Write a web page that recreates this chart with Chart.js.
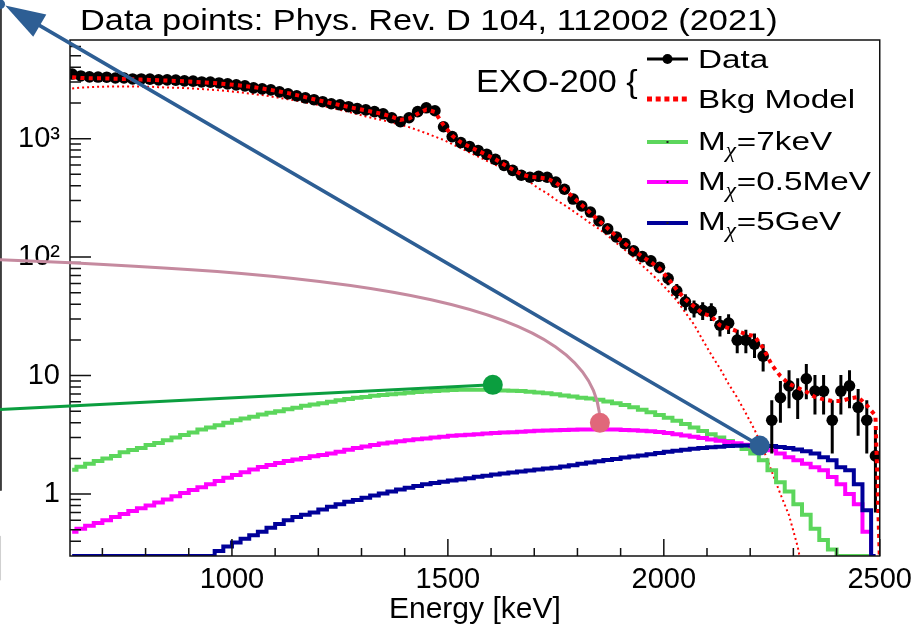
<!DOCTYPE html>
<html lang="en">
<head>
<meta charset="UTF-8">
<title>EXO-200 spectrum with dark matter signals</title>
<script src="https://cdn.jsdelivr.net/npm/chart.js"></script>
<style>
  html, body { margin: 0; padding: 0; background: #fff; }
</style>
</head>
<body>
<canvas id="spectrum" width="919" height="630"></canvas>
<script>
const FONT = "'Liberation Sans', Arial, sans-serif";

// bin centres (keV), 20 keV bins
const energy = [630, 650, 670, 690, 710, 730, 750, 770, 790, 810, 830, 850, 870, 890, 910, 930, 950, 970, 990,
  1010, 1030, 1050, 1070, 1090, 1110, 1130, 1150, 1170, 1190, 1210, 1230, 1250, 1270, 1290, 1310, 1330, 1350,
  1370, 1390, 1410, 1430, 1450, 1470, 1490, 1510, 1530, 1550, 1570, 1590, 1610, 1630, 1650, 1670, 1690, 1710,
  1730, 1750, 1770, 1790, 1810, 1830, 1850, 1870, 1890, 1910, 1930, 1950, 1970, 1990, 2010, 2030, 2050, 2070,
  2090, 2110, 2130, 2150, 2170, 2190, 2210, 2230, 2250, 2270, 2290, 2310, 2330, 2350, 2370, 2390, 2410, 2430,
  2450, 2470, 2490];

const dataCounts = [3510, 3380, 3320, 3310, 3300, 3250, 3250, 3190, 3190, 3180, 3130, 3130, 3120, 3070, 3060, 3010, 3000, 2950, 2900,
  2840, 2790, 2680, 2630, 2580, 2480, 2390, 2300, 2210, 2130, 2050, 1970, 1930, 1860, 1790, 1750, 1690, 1620,
  1500, 1390, 1500, 1690, 1820, 1720, 1260, 1040, 927, 859, 795, 736, 668, 595, 540, 491, 472, 481,
  472, 429, 374, 309, 270, 240, 202, 173, 148, 130, 113, 101, 93, 82, 66, 52, 42, 37,
  35.5, 34.8, 26.6, 27.7, 19.9, 19.9, 18.4, 14.6, 4.2, 6.5, 8.2, 6.9, 9.4, 7.4, 7.4, 4.2, 7.4, 8.2,
  5.4, 4.2, 2.1];

const dataErr = [59, 58, 58, 58, 57, 57, 57, 56, 56, 56, 56, 56, 56, 55, 55, 55, 55, 54, 54,
  53, 53, 52, 51, 51, 50, 49, 48, 47, 46, 45, 44, 44, 43, 42, 42, 41, 40,
  39, 37, 39, 41, 43, 41, 35, 32, 30, 29, 28, 27, 26, 24, 23, 22, 22, 22,
  22, 21, 19, 18, 16, 15, 14, 13, 12, 11, 11, 10, 9.6, 9, 8.1, 7.2, 6.5, 6.1,
  6, 5.9, 5.2, 5.3, 4.5, 4.5, 4.3, 3.8, 2.0, 2.5, 2.9, 2.6, 3.1, 2.7, 2.7, 2.0, 2.7, 2.9,
  2.3, 2.0, 1.4];

const bkgModel = [3300, 3250, 3230, 3230, 3220, 3200, 3190, 3170, 3150, 3130, 3110, 3090, 3070, 3050, 3020, 2990, 2960, 2920, 2880,
  2830, 2780, 2720, 2650, 2580, 2500, 2420, 2330, 2240, 2150, 2070, 1990, 1920, 1850, 1790, 1730, 1670, 1610,
  1530, 1440, 1480, 1620, 1760, 1680, 1300, 1060, 930, 855, 790, 730, 670, 605, 550, 500, 475, 470,
  460, 425, 375, 320, 275, 236, 203, 175, 150, 130, 114, 101, 91, 80, 66, 53, 44, 38.4,
  33.5, 31.7, 26.6, 25.1, 23.7, 22.4, 21.5, 17.1, 12.3, 9.9, 8.5, 7.9, 7.3, 6.6, 6.3, 6.1, 6.1, 6.4,
  6.6, 5.6, 4.6];

// lower dotted component (falls off before the endpoint)
const bkgComponent = [2650, 2700, 2720, 2740, 2750, 2760, 2760, 2760, 2750, 2740, 2720, 2700, 2690, 2670, 2650, 2620, 2590, 2560, 2520,
  2480, 2430, 2380, 2330, 2270, 2210, 2150, 2090, 2020, 1960, 1890, 1820, 1750, 1680, 1610, 1540, 1480, 1430,
  1370, 1310, 1250, 1180, 1110, 1040, 975, 900, 830, 765, 705, 650, 600, 555, 510, 470, 430, 380,
  345, 305, 275, 245, 218, 193, 173, 152, 132, 115, 100, 85, 73, 62, 52, 43, 34, 27,
  20, 15, 11.5, 8.5, 6.5, 4.8, 3.5, 2.4, 1.55, 1.0, 0.66, 0.36, 0.15, null, null, null, null, null,
  null, null, null];

const dm7keV = [1.6, 1.7, 1.8, 1.9, 2.0, 2.1, 2.25, 2.35, 2.45, 2.6, 2.7, 2.85, 3.0, 3.15, 3.3, 3.5, 3.65, 3.8, 4.0,
  4.2, 4.35, 4.5, 4.7, 4.85, 5.0, 5.2, 5.35, 5.55, 5.7, 5.85, 6.0, 6.2, 6.35, 6.5, 6.6, 6.75, 6.85,
  6.95, 7.05, 7.15, 7.25, 7.35, 7.4, 7.5, 7.55, 7.6, 7.6, 7.6, 7.6, 7.55, 7.5, 7.45, 7.4, 7.3, 7.2,
  7.1, 6.95, 6.8, 6.65, 6.5, 6.4, 6.25, 6.05, 5.85, 5.65, 5.4, 5.15, 4.9, 4.65, 4.4, 4.15, 3.9, 3.65,
  3.4, 3.2, 3.0, 2.8, 2.6, 2.4, 2.2, 1.93, 1.59, 1.26, 1.05, 0.82, 0.67, 0.51, 0.41, 0.34, 0, 0,
  0, 0, 0];

const dm05MeV = [0.48, 0.51, 0.54, 0.57, 0.6, 0.64, 0.68, 0.72, 0.76, 0.8, 0.85, 0.9, 0.96, 1.02, 1.08, 1.14, 1.21, 1.29, 1.37,
  1.45, 1.53, 1.61, 1.69, 1.76, 1.83, 1.9, 1.96, 2.02, 2.08, 2.14, 2.2, 2.28, 2.36, 2.45, 2.52, 2.6, 2.67,
  2.73, 2.79, 2.84, 2.9, 2.95, 3.0, 3.05, 3.1, 3.14, 3.17, 3.2, 3.24, 3.27, 3.3, 3.33, 3.36, 3.39, 3.42,
  3.44, 3.46, 3.48, 3.49, 3.5, 3.5, 3.5, 3.5, 3.5, 3.48, 3.46, 3.43, 3.39, 3.34, 3.28, 3.2, 3.12, 3.05,
  2.97, 2.89, 2.82, 2.75, 2.68, 2.61, 2.53, 2.44, 2.34, 2.2, 2.04, 1.93, 1.8, 1.68, 1.59, 1.39, 1.21, 1.0,
  0.82, 0.48, 0];

const dm5GeV = [0, 0, 0, 0, 0, 0, 0, 0, 0, 0, 0, 0, 0, 0, 0, 0, 0, 0.33, 0.36,
  0.39, 0.42, 0.45, 0.48, 0.52, 0.56, 0.6, 0.64, 0.67, 0.7, 0.74, 0.78, 0.82, 0.86, 0.89, 0.93, 0.97, 1.01,
  1.05, 1.09, 1.13, 1.17, 1.21, 1.24, 1.27, 1.3, 1.33, 1.36, 1.4, 1.43, 1.46, 1.49, 1.52, 1.55, 1.58, 1.61,
  1.64, 1.67, 1.71, 1.75, 1.8, 1.85, 1.89, 1.94, 1.98, 2.03, 2.07, 2.12, 2.17, 2.22, 2.27, 2.32, 2.37, 2.41,
  2.45, 2.48, 2.51, 2.54, 2.56, 2.57, 2.57, 2.56, 2.54, 2.5, 2.45, 2.38, 2.3, 2.2, 2.04, 1.93, 1.68, 1.59,
  1.21, 0.73, 0];

const xRange = [625, 2500];
const yRange = [0.32, 6800];
const xTickValues = [1000, 1500, 2000, 2500];
const yTickValues = [1, 10, 100, 1000];
const yTickLabels = ['1', '10', '10²', '10³'];

// pointer overlays, in data units [keV, counts]
const arrowDot = [2222, 2.57];
const arrowTip = [475, 13300];
const greenDot = [1604, 8.35];
const greenStart = [463, 5.16];
const pinkDot = [1852, 4.0];
const pinkStart = [463, 95];
const pinkBend = [[1273, 72.6], [1852, 44.8]];
const edgeLine = [[465, 15000], [465, 1.08]];
const edgeDot = [463, 13600];
const edgeGrey = [[463, 0.436], [463, 0.19]];

const GREEN = '#5cd65c', MAGENTA = '#ff00ff', NAVY = '#000099', RED = '#ff0000';

// zero bins are kept (parsing off) so the log axis puts them on the frame bottom, like ROOT
const pts = vals => energy.map((e, i) => ({x: e, y: vals[i]}));

function stretchText(ctx, txt, x, y, font, sx) {
  ctx.save();
  ctx.font = font;
  ctx.translate(x, y);
  ctx.scale(sx, 1);
  ctx.fillText(txt, 0, 0);
  const w = ctx.measureText(txt).width * sx;
  ctx.restore();
  return w;
}

const decor = {
  id: 'decor',
  afterDatasetDraw(chart, args) {
    if (args.meta.label !== 'Data') return;
    const {ctx, chartArea: a, scales: {x, y}} = chart;
    ctx.save();
    ctx.beginPath();
    ctx.rect(a.left, a.top, a.right - a.left, a.bottom - a.top);
    ctx.clip();
    ctx.strokeStyle = '#000';
    ctx.lineWidth = 3;
    energy.forEach((e, i) => {
      const px = x.getPixelForValue(e);
      const lo = Math.max(dataCounts[i] - dataErr[i], 1e-3);
      ctx.beginPath();
      ctx.moveTo(px, y.getPixelForValue(lo));
      ctx.lineTo(px, y.getPixelForValue(dataCounts[i] + dataErr[i]));
      ctx.stroke();
    });
    ctx.restore();
  },
  afterDraw(chart) {
    const {ctx, chartArea: a, scales: {x, y}} = chart;
    const P = d => [x.getPixelForValue(d[0]), y.getPixelForValue(d[1])];
    ctx.save();

    // frame
    ctx.strokeStyle = '#111';
    ctx.lineWidth = 1.5;
    ctx.strokeRect(a.left, a.top, a.right - a.left, a.bottom - a.top);

    // inward ticks
    ctx.beginPath();
    for (let v = 700; v <= 2500; v += 100) {
      const px = x.getPixelForValue(v);
      const len = v % 500 === 0 ? 17 : 8;
      ctx.moveTo(px, a.bottom);
      ctx.lineTo(px, a.bottom - len);
    }
    for (let dec = 0.1; dec <= 1000; dec *= 10) {
      for (let m = 1; m <= 9; m++) {
        const v = dec * m;
        if (v < yRange[0] || v > yRange[1]) continue;
        const py = y.getPixelForValue(v);
        ctx.moveTo(a.left, py);
        ctx.lineTo(a.left + (m === 1 ? 21 : 11), py);
      }
    }
    ctx.stroke();

    // title
    ctx.fillStyle = '#000';
    ctx.textBaseline = 'alphabetic';
    stretchText(ctx, 'Data points: Phys. Rev. D 104, 112002 (2021)', 80, 30, '30px ' + FONT, 1.145);
    stretchText(ctx, 'EXO-200 {', 476, 92, '32px ' + FONT, 1.07);

    // legend
    const rows = [59, 99, 142, 182, 223];
    const base = [68, 108, 150, 190, 230];
    const x0 = 647, x1 = 688, tx = 698, sx = 1.33;
    const lf = '25px ' + FONT, sf = "italic 21px 'Liberation Serif', serif";
    ctx.lineCap = 'butt';
    // Data
    ctx.strokeStyle = '#000'; ctx.lineWidth = 3;
    ctx.beginPath(); ctx.moveTo(x0, rows[0]); ctx.lineTo(x1, rows[0]); ctx.stroke();
    ctx.beginPath(); ctx.arc((x0 + x1) / 2, rows[0], 5, 0, Math.PI * 2); ctx.fill();
    stretchText(ctx, 'Data', tx, base[0], lf, sx);
    // Bkg
    ctx.strokeStyle = RED; ctx.lineWidth = 5; ctx.setLineDash([5, 3.7]);
    ctx.beginPath(); ctx.moveTo(x0, rows[1]); ctx.lineTo(x1, rows[1]); ctx.stroke();
    ctx.setLineDash([]);
    stretchText(ctx, 'Bkg Model', tx, base[1], lf, sx);
    // signals
    [[GREEN, '=7keV'], [MAGENTA, '=0.5MeV'], [NAVY, '=5GeV']].forEach(([c, t], k) => {
      const r = rows[k + 2], b = base[k + 2];
      ctx.strokeStyle = c; ctx.lineWidth = 4;
      ctx.beginPath(); ctx.moveTo(x0, r); ctx.lineTo(x1, r); ctx.stroke();
      ctx.fillStyle = '#222';
      ctx.fillRect((x0 + x1) / 2 - 1, r - 1, 2, 2);
      ctx.fillStyle = '#000';
      let cx = tx;
      cx += stretchText(ctx, 'M', cx, b, lf, sx);
      cx += stretchText(ctx, 'χ', cx, b + 7, sf, 1.1);
      stretchText(ctx, t, cx + 1, b, lf, sx);
    });

    // pointer overlays
    ctx.lineCap = 'round';
    // left edge marks
    ctx.strokeStyle = '#3c3c3c'; ctx.lineWidth = 2;
    let p = P(edgeLine[0]), q = P(edgeLine[1]);
    ctx.beginPath(); ctx.moveTo(p[0], p[1]); ctx.lineTo(q[0], q[1]); ctx.stroke();
    ctx.strokeStyle = '#d0d0d0';
    p = P(edgeGrey[0]); q = P(edgeGrey[1]);
    ctx.beginPath(); ctx.moveTo(p[0], p[1]); ctx.lineTo(q[0], q[1]); ctx.stroke();

    // green pointer
    ctx.strokeStyle = '#0b9e3f'; ctx.fillStyle = '#0b9e3f'; ctx.lineWidth = 3;
    p = P(greenStart); q = P(greenDot);
    ctx.beginPath(); ctx.moveTo(p[0], p[1]); ctx.lineTo(q[0], q[1]); ctx.stroke();
    ctx.beginPath(); ctx.arc(q[0], q[1], 10, 0, Math.PI * 2); ctx.fill();

    // pink pointer
    ctx.strokeStyle = '#c58a9f'; ctx.lineWidth = 3;
    p = P(pinkStart); q = P(pinkDot);
    const c1 = P(pinkBend[0]), c2 = P(pinkBend[1]);
    ctx.beginPath(); ctx.moveTo(p[0], p[1]);
    ctx.bezierCurveTo(c1[0], c1[1], c2[0], c2[1], q[0], q[1]); ctx.stroke();
    ctx.fillStyle = '#e0687a';
    ctx.beginPath(); ctx.arc(q[0], q[1], 10, 0, Math.PI * 2); ctx.fill();

    // blue arrow
    const BLUE = '#2d5e94';
    p = P(arrowDot); q = P(arrowTip);
    const ang = Math.atan2(q[1] - p[1], q[0] - p[0]);
    const hl = 40, hw = 13;
    const bx = q[0] - hl * Math.cos(ang), by = q[1] - hl * Math.sin(ang);
    ctx.strokeStyle = BLUE; ctx.fillStyle = BLUE; ctx.lineWidth = 3.5;
    ctx.beginPath(); ctx.moveTo(p[0], p[1]); ctx.lineTo(bx, by); ctx.stroke();
    ctx.beginPath();
    ctx.moveTo(q[0], q[1]);
    ctx.lineTo(bx + hw * Math.sin(ang), by - hw * Math.cos(ang));
    ctx.lineTo(bx - hw * Math.sin(ang), by + hw * Math.cos(ang));
    ctx.closePath(); ctx.fill();
    ctx.beginPath(); ctx.arc(p[0], p[1], 10, 0, Math.PI * 2); ctx.fill();
    const ed = P(edgeDot);
    ctx.beginPath(); ctx.arc(ed[0], ed[1], 5, 0, Math.PI * 2); ctx.fill();

    ctx.restore();
  }
};

const histo = (label, vals, color, order) => ({
  label, data: pts(vals), parsing: false, normalized: true, borderColor: color, borderWidth: 4,
  stepped: 'middle', pointRadius: 0, fill: false, order
});

const bkgPoints = pts(bkgModel);
bkgPoints.push({x: xRange[1], y: 0});

new Chart(document.getElementById('spectrum'), {
  type: 'line',
  data: {
    datasets: [
      {label: 'Bkg Model', data: bkgPoints, parsing: false, normalized: true, borderColor: RED, borderWidth: 4,
       borderDash: [4, 4.3], pointRadius: 0, tension: 0, fill: false, order: 1},
      {label: 'Data', data: pts(dataCounts), showLine: false, pointRadius: 5.8,
       pointBackgroundColor: '#000', pointBorderColor: '#000', pointBorderWidth: 0, order: 2},
      histo('M_chi=5GeV', dm5GeV, NAVY, 3),
      histo('M_chi=0.5MeV', dm05MeV, MAGENTA, 4),
      histo('M_chi=7keV', dm7keV, GREEN, 5),
      {label: 'Bkg component', data: pts(bkgComponent), borderColor: RED, borderWidth: 2,
       borderDash: [2, 3], pointRadius: 0, tension: 0, fill: false, spanGaps: false, order: 6}
    ]
  },
  options: {
    responsive: false,
    animation: false,
    layout: {padding: {top: 40, right: 39, left: 0, bottom: 0}},
    plugins: {legend: {display: false}, title: {display: false}, tooltip: {enabled: false}},
    scales: {
      x: {
        type: 'linear', min: xRange[0], max: xRange[1],
        afterBuildTicks: s => { s.ticks = xTickValues.map(v => ({value: v})); },
        afterFit: s => { s.height = 74; },
        ticks: {font: {family: FONT, size: 29}, color: '#000', padding: 7,
                maxRotation: 0, autoSkip: false, callback: v => String(v)},
        grid: {display: false, drawTicks: false},
        border: {display: false},
        title: {display: true, text: 'Energy [keV]', color: '#000',
                font: {family: FONT, size: 30}, padding: {top: 0, bottom: 2}}
      },
      y: {
        type: 'logarithmic', min: yRange[0], max: yRange[1],
        afterBuildTicks: s => { s.ticks = yTickValues.map(v => ({value: v})); },
        afterFit: s => { s.width = 70; },
        ticks: {font: {family: FONT, size: 29}, color: '#000', padding: 10,
                callback: v => yTickLabels[yTickValues.indexOf(v)]},
        grid: {display: false, drawTicks: false},
        border: {display: false}
      }
    }
  },
  plugins: [decor]
});
</script>
</body>
</html>
